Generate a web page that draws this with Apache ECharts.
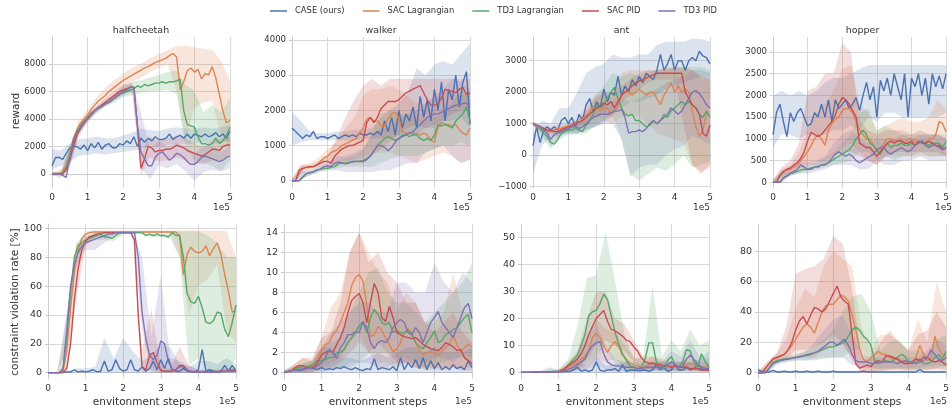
<!DOCTYPE html>
<html>
<head>
<meta charset="utf-8">
<script src="https://cdn.jsdelivr.net/npm/echarts@6/dist/echarts.min.js"></script>
<style>
  html, body { margin: 0; padding: 0; background: #fff; }
  #chart { width: 952px; height: 412px; }
</style>
</head>
<body>
<div id="chart"></div>
<script>
// steps (x 1e5) for the mean curves and for the shaded bands
const xFine = [0,0.1,0.2,0.3,0.4,0.5,0.6,0.7,0.8,0.9,1,1.1,1.2,1.3,1.4,1.5,1.6,1.7,1.8,1.9,2,2.1,2.2,2.3,2.4,2.5,2.6,2.7,2.8,2.9,3,3.1,3.2,3.3,3.4,3.5,3.6,3.7,3.8,3.9,4,4.1,4.2,4.3,4.4,4.5,4.6,4.7,4.8,4.9,5];
const xBand = [0,0.25,0.5,0.75,1,1.25,1.5,1.75,2,2.25,2.5,2.75,3,3.25,3.5,3.75,4,4.25,4.5,4.75,5];
const xTicks = [0,1,2,3,4,5];

const methods = ['CASE (ours)', 'SAC Lagrangian', 'TD3 Lagrangian', 'SAC PID', 'TD3 PID'];
const colors = ['#4c72b0', '#dd8452', '#55a868', '#c44e52', '#8172b3'];
const bandColors = ['rgba(76,114,176,0.2)', 'rgba(221,132,82,0.2)', 'rgba(85,168,104,0.2)', 'rgba(196,78,82,0.2)', 'rgba(129,114,179,0.2)'];

// ---------- halfcheetah reward ----------
const hcRewCase = [600,1200,1200,1050,1500,1900,2000,2000,1800,2100,
  1700,2200,1900,2300,1800,2100,2200,1900,1900,2200,
  2100,2400,2200,2700,2000,2600,2300,2600,2400,2700,
  2500,2500,2600,2900,2500,2700,2800,2600,2900,2600,
  2900,2800,2700,2900,2700,2800,3000,2700,2900,2600,3100];
const hcRewSacLag = [0,0,0,200,600,1500,2600,3200,3700,4000,
  4300,4700,5000,5300,5500,5700,6000,6200,6400,6600,
  6800,6950,7100,7250,7400,7550,7700,7800,7950,8100,
  8200,8300,8400,8600,8750,8500,6100,6700,7500,7700,
  7400,7600,6900,7300,7200,7800,7000,5800,4600,3700,3900];
const hcRewTd3Lag = [0,0,0,50,500,1400,2400,3100,3500,3800,
  4100,4400,4600,4800,4900,5100,5200,5400,5600,5800,
  5900,6000,6100,6200,6400,6300,6500,6400,6500,6600,
  6600,6700,6600,6700,6700,6750,6900,4600,3600,3500,
  3400,2700,2200,2200,2100,2200,2600,2200,2400,2800,3400];
const hcRewSacPid = [0,0,0,0,300,1000,2000,2800,3300,3700,
  4000,4300,4600,4800,5000,5200,5400,5600,5800,6000,
  6100,6200,6300,6300,3500,400,1100,2000,1900,1600,
  1700,1700,1800,1800,1900,2100,2000,1900,1700,1600,
  1500,1400,1300,1400,1600,1800,1800,1700,2000,2100,2100];
const hcRewTd3Pid = [0,0,0,-100,-250,1200,2400,3000,3400,3800,
  4000,4300,4600,4800,4900,5100,5200,5400,5600,5800,
  6000,6100,6300,6300,3500,1600,1100,600,600,1200,
  1500,1600,1300,1000,1200,1500,1400,1200,900,700,
  700,900,1200,1300,1200,1100,1000,900,1000,1200,1300];
const hcRewCaseLo = [300,600,900,1300,1400,1500,1400,1500,1600,1700,1800,2000,2000,2100,2200,2200,2200,2300,2200,2300,2400];
const hcRewCaseHi = [1800,1700,2200,2500,2600,2700,2600,2600,2800,3000,3300,3200,3100,3300,3400,3300,3300,3400,3300,3400,3600];
const hcRewSacLagLo = [-100,-100,1000,3200,4000,4900,5400,5900,6300,6700,7000,7400,7700,8000,6000,2500,4800,5200,5300,2800,2000];
const hcRewSacLagHi = [100,300,2100,3900,4700,5600,6300,6800,7300,7700,8000,8400,8700,9000,9300,9300,9200,9100,9000,8200,6800];
const hcRewTd3LagLo = [-100,-100,800,3000,3800,4500,4900,5200,5600,5700,5900,6000,6000,6100,5800,2000,1000,800,600,200,1000];
const hcRewTd3LagHi = [100,200,1900,3600,4300,4900,5300,5800,6400,6700,6800,7000,7200,7400,7500,6500,6000,4500,5000,4500,5500];
const hcRewSacPidLo = [-100,-100,600,2700,3800,4500,5000,5400,5800,6000,-100,1200,900,1000,1200,1000,800,700,1000,1000,1400];
const hcRewSacPidHi = [100,100,1500,3400,4300,4900,5500,6000,6500,6600,1500,2700,2400,2600,2800,2600,2200,2000,2400,2600,2700];
const hcRewTd3PidLo = [-100,-300,400,2900,3800,4400,4900,5300,5700,5900,500,-400,600,400,700,200,-500,100,300,200,400];
const hcRewTd3PidHi = [100,100,1800,3500,4300,4900,5400,5800,6300,6600,4500,1800,2400,2000,2300,2000,1500,2000,2000,1600,2000];

// ---------- walker reward ----------
const wkRewCase = [1500,1400,1300,1200,1300,1250,1400,1200,1250,1250,
  1200,1250,1300,1200,1250,1300,1250,1300,1250,1350,
  1300,1300,1350,1300,1400,1300,1700,1400,1800,1300,
  2000,1500,1900,1700,2100,1500,2400,1800,2300,1700,
  2600,2000,2800,1700,2600,2300,3000,2100,2800,3100,1600];
const wkRewSacLag = [0,0,200,350,380,380,400,450,550,650,
  700,800,850,900,1000,1050,1100,1150,1200,1350,
  1500,1750,1800,1700,1700,1550,1550,1750,1900,1950,
  1750,1400,1350,1350,1350,1350,1300,1350,1300,1150,
  1100,1500,1650,1600,1600,1550,1600,1450,1350,1300,1500];
const wkRewTd3Lag = [0,0,0,100,200,230,250,300,330,350,
  350,380,400,480,500,500,520,530,550,550,
  580,620,700,850,1000,1100,1200,1250,1200,1150,
  1200,1300,1300,1250,1300,1300,1200,1150,1200,1150,
  1300,1600,1550,1600,1550,1500,1700,1800,1900,2100,1700];
const wkRewSacPid = [0,0,300,350,380,400,400,450,500,550,
  550,500,700,800,900,950,1000,1000,1050,1100,
  1150,1650,1800,1650,1800,2050,2150,2250,2250,2250,
  2300,2400,2500,2550,2600,2650,2700,2500,2300,2150,
  2150,2200,2350,2600,2550,2550,2500,2600,2650,2450,2500];
const wkRewTd3Pid = [0,0,0,100,200,220,250,300,330,400,
  420,400,500,530,500,480,500,550,550,550,
  550,600,700,850,1000,1000,950,850,950,1100,
  1200,1250,1300,1350,1400,1500,1600,1700,1800,1850,
  1900,1900,1950,2000,2050,2100,2150,2150,2200,2200,2100];
const wkRewCaseLo = [1000,1100,1150,1150,1150,1150,1150,1150,1150,1200,1200,1200,1300,1300,1300,1500,1500,1700,1700,1800,1500];
const wkRewCaseHi = [1950,1700,1400,1350,1350,1400,1400,1450,1450,1500,1800,2000,2200,2500,3200,3000,3300,3400,3300,3600,3900];
const wkRewSacLagLo = [0,200,300,400,500,500,550,600,700,800,800,800,700,600,500,600,700,800,700,500,600];
const wkRewSacLagHi = [50,450,500,650,900,1100,1500,1800,2400,2600,2600,2700,2600,2400,2200,2200,2300,2500,2500,2400,2600];
const wkRewTd3LagLo = [0,50,150,250,300,350,400,400,400,400,500,600,700,700,700,800,900,1000,1000,1100,1000];
const wkRewTd3LagHi = [50,250,300,400,450,550,650,700,900,1400,1900,2000,1900,1900,1800,1700,1800,2000,2200,2600,2500];
const wkRewSacPidLo = [0,250,350,400,400,450,500,500,500,700,900,1100,1300,1500,1600,1500,1600,1700,1900,2000,2000];
const wkRewSacPidHi = [50,450,450,550,700,1200,1800,2300,2700,2900,2700,2900,2900,2900,2900,2900,2900,2900,2900,2900,2900];
const wkRewTd3PidLo = [0,50,150,250,300,300,250,250,250,250,300,300,400,500,500,800,900,1000,700,500,600];
const wkRewTd3PidHi = [50,250,300,400,500,700,700,800,900,1300,1500,1500,1800,1900,2000,2200,2400,2600,2900,2800,2600];

// ---------- ant reward ----------
const antRewCase = [300,900,400,800,900,800,900,800,1100,1200,
  1000,1200,900,1300,1100,1600,1800,1400,1700,1500,
  2100,1700,2000,1900,2500,1900,2200,2000,2400,2200,
  2500,2300,2600,2500,2400,2700,3200,2700,2900,3200,
  2700,3000,3000,2700,3000,3100,3000,3300,3150,3100,2900];
const antRewSacLag = [1000,900,850,800,750,750,800,850,850,900,
  900,950,1000,1050,1150,1250,1400,1500,1500,1400,
  1500,1500,1300,1400,1600,1900,2000,2000,1900,2000,
  2100,2000,1900,2000,2000,1800,1600,1900,2100,2300,
  2000,2200,2000,2100,2000,1400,900,600,800,1300,1300];
const antRewTd3Lag = [1000,950,850,700,600,400,350,500,700,750,
  800,800,850,800,750,950,1100,1300,1600,1500,
  1600,1800,2000,2150,1800,1500,1300,1250,1300,1100,
  1100,1000,900,950,1100,1000,1100,1300,1200,1400,
  1500,1600,1700,1600,1700,1600,1500,1300,1200,1400,1200];
const antRewSacPid = [1000,950,900,850,800,780,750,750,800,850,
  900,950,1000,1050,1100,1200,1300,1400,1500,1550,
  1650,1600,1700,1500,1700,1900,2000,2100,2200,2300,
  2350,2400,2450,2500,2550,2600,2600,2600,2600,2600,
  2600,2600,2600,2000,1800,1600,1500,1300,700,600,950];
const antRewTd3Pid = [1000,950,900,800,700,500,650,700,750,800,
  850,900,900,850,900,1000,1100,1200,1250,1300,
  1300,1300,1350,1400,1400,1450,1200,700,750,750,
  800,750,850,1000,1100,1000,1100,1200,1300,1500,
  1400,1300,1400,1600,1800,2000,2050,1950,1800,1600,1500];
const antRewCaseLo = [-600,300,600,600,700,700,800,900,1100,1300,1500,1700,1700,1800,1900,2100,2200,2300,2400,2500,2500];
const antRewCaseHi = [700,1100,1000,1500,1500,2000,2600,2800,2900,3200,3100,3100,3200,3200,3500,3600,3600,3600,3700,3700,3600];
const antRewSacLagLo = [950,700,650,700,800,850,950,1000,1100,1000,1200,1300,1200,1000,700,600,500,400,-300,-500,-400];
const antRewSacLagHi = [1050,950,900,1000,1000,1150,1600,1900,2000,1800,2600,2700,2700,2700,2700,2800,2800,2800,2700,2500,2500];
const antRewTd3LagLo = [950,600,200,500,650,650,700,900,1000,1300,500,-600,-800,-600,-400,-500,-300,0,-400,-300,-200];
const antRewTd3LagHi = [1050,900,600,800,900,1000,1200,1900,2200,2600,2500,2600,2500,2600,2700,2700,2800,2800,2800,2800,2700];
const antRewSacPidLo = [950,750,700,700,800,900,1000,1200,1300,1200,1700,1900,2100,2300,2400,2400,2400,1000,-300,-600,-300];
const antRewSacPidHi = [1050,900,850,850,1000,1100,1400,1800,2000,2000,2200,2400,2600,2700,2700,2750,2750,2750,2700,2500,2400];
const antRewTd3PidLo = [950,700,300,600,700,700,800,900,1000,1000,500,-700,-400,-300,-300,0,200,300,600,500,300];
const antRewTd3PidHi = [1050,950,700,850,1000,1100,1300,1600,1700,1700,1800,1700,1800,2000,2100,2300,2400,2500,2700,2700,2600];

// ---------- hopper reward ----------
const hopRewCase = [1100,1600,1800,1400,1050,1600,1400,1600,1700,1500,
  1300,1350,1600,1500,1800,1500,1900,1400,1900,1700,
  1800,1900,1700,1800,1950,1650,2000,2300,1900,2200,
  1500,2350,2100,2400,2000,2500,2200,1900,2500,1500,
  2400,2200,2500,2000,2400,1800,2500,2200,2450,2150,2500];
const hopRewSacLag = [0,0,150,250,280,300,350,400,500,600,
  700,850,1000,1100,1000,850,1200,1350,1450,1500,
  1650,1700,1700,1600,1400,1200,1100,1000,1000,850,
  700,750,900,1000,1000,950,950,1000,900,1000,
  1000,950,900,950,900,1000,1000,1100,1400,1350,1150];
const hopRewTd3Lag = [0,0,0,100,150,200,220,250,280,300,
  300,330,350,370,400,420,450,500,550,600,
  650,700,750,850,1000,1100,1200,1100,900,850,
  750,650,800,900,800,850,850,900,850,850,
  900,850,900,950,900,850,900,900,900,800,950];
const hopRewSacPid = [0,0,150,250,300,330,400,450,550,700,
  950,1150,1100,1050,1100,1200,1300,1400,1550,1800,
  1950,1900,1800,1650,1500,900,850,800,800,700,
  600,700,800,900,950,900,950,950,900,900,
  950,850,950,900,900,950,900,850,850,750,800];
const hopRewTd3Pid = [0,0,0,100,150,200,250,300,400,350,
  300,300,350,350,400,400,450,550,650,700,
  650,600,650,600,500,450,500,550,600,650,
  750,800,800,700,650,700,750,800,750,700,
  750,850,900,950,850,800,850,850,800,750,800];
const hopRewCaseLo = [800,1100,1100,1000,1100,1100,1100,1200,1200,1300,1200,1500,1400,1600,1600,1500,1500,1500,1500,1500,1600];
const hopRewCaseHi = [2000,2100,2000,2100,2000,2100,2300,2400,2400,2500,2600,2700,2700,2700,2700,2700,2700,2700,2700,2700,2700];
const hopRewSacLagLo = [0,100,200,300,400,500,400,600,800,900,700,500,400,600,600,600,600,600,600,600,600];
const hopRewSacLagHi = [50,300,400,700,1200,1600,1800,2100,2600,2700,1800,1600,1200,1300,1400,1500,1400,1400,1500,1900,1700];
const hopRewTd3LagLo = [0,0,150,200,250,300,350,400,450,500,700,700,500,600,500,600,600,700,600,600,600];
const hopRewTd3LagHi = [50,250,250,300,400,450,550,700,900,1100,1600,1700,1200,1300,1200,1100,1100,1100,1100,1100,1100];
const hopRewSacPidLo = [0,150,200,300,400,400,500,600,700,700,600,500,400,600,700,700,700,700,700,700,600];
const hopRewSacPidHi = [50,350,500,900,2100,2200,2500,2500,3200,3000,1400,1200,1100,1200,1200,1200,1100,1200,1100,1100,1000];
const hopRewTd3PidLo = [0,0,150,200,200,250,300,400,400,400,300,300,500,400,400,500,500,600,500,500,500];
const hopRewTd3PidHi = [50,250,300,500,450,500,600,900,1100,1200,1000,900,1000,1000,1000,1100,1000,1100,1100,1100,1000];

// ---------- halfcheetah constraint violation ----------
const hcViolCase = [0,0,0,0,0,0.5,0.5,2,0.5,1,
  0.5,1,2,0.5,1,8,1,2,9,3,
  1,2,9,2,1,4,1,3,8,2,
  9,3,10,2,1,1,3,1,1,0.5,
  2,16,1,2,1,0.5,1,5,1,5,1];
const hcViolSacLag = [0,0,0,0,1,15,45,70,85,93,
  96,97,97.5,97.5,97.5,97.5,97.5,97.5,97.5,97.5,
  97.5,97.5,97.5,97.5,97.5,97.5,97.5,97.5,97.5,97.5,
  97.5,97.5,97.5,97.5,97.5,95,68,82,87,84,
  83,84,88,81,86,90,82,68,56,42,43];
const hcViolTd3Lag = [0,0,0,0,2,25,55,80,88,90,
  92,93,94,95,96,94,94,93,95,97,
  97,97,97,97,97,97,95,96,95,96,
  95,95,94,97,95,95,80,55,49,48,
  53,45,35,34,36,42,41,30,25,35,47];
const hcViolSacPid = [0,0,0,0,0,3,20,50,72,85,
  91,94,95,96,96.5,97,97,97,97,97,
  97,97,97,92,40,4,2,12,14,7,
  1.5,1,1,1,2,5,5,2,0.5,0.5,
  0.5,0.5,0.5,0.5,0.5,0.5,1,1,1,2,1];
const hcViolTd3Pid = [0,0,0,0,3,30,60,75,83,88,
  90,91,92,93,94,95,96,96,97,97,
  97,97,97,97,80,42,24,12,9,12,
  22,20,8,2,2,4,4,2,0.5,0.5,
  0.5,0.5,0.5,0.5,0.5,0.5,0.5,1,1,1,1];
const hcViolCaseLo = [0,0,0,0,0,0,0,0,0,0,0,0,0,0,0,0,0,0,0,0,0];
const hcViolCaseHi = [0.5,0.5,1,3,3,4,24,10,24,15,8,12,20,18,6,4,8,8,6,10,6];
const hcViolSacLagLo = [0,0,8,70,94,97,97,97,97,97,97,97,97,97,80,40,60,65,75,30,20];
const hcViolSacLagHi = [0.5,0.5,25,88,98,98.5,98.5,98.5,98.5,98.5,98.5,98.5,98.5,98.5,98.5,98.5,98.5,98.5,98.5,98,80];
const hcViolTd3LagLo = [0,0,15,78,90,92,92,91,96,96,96,94,94,93,80,5,10,0,0,0,10];
const hcViolTd3LagHi = [0.5,0.5,40,90,95,97,97,97,98,98,98,98,98,98,98,98,98,95,90,80,80];
const hcViolSacPidLo = [0,0,1,50,88,94,96,96,96,96,0,2,0,0,0,0,0,0,0,0,0];
const hcViolSacPidHi = [0.5,0.5,8,75,94,97,98,98,98,98,15,44,5,3,18,5,2,2,2,3,4];
const hcViolTd3PidLo = [0,0,18,75,85,85,90,94,96,96,30,0,0,0,0,0,0,0,0,0,0];
const hcViolTd3PidHi = [0.5,0.5,42,85,93,96,97,98,98,98,80,25,68,10,8,5,2,2,2,2,2];

// ---------- walker constraint violation ----------
const wkViolCase = [0,0.1,0.2,0.3,0.2,0.3,0.4,0.5,0.4,0.3,
  0.5,0.3,0.4,0.3,0.5,0.4,0.6,0.4,0.3,0.5,
  0.3,0.2,0.4,0.3,1.4,0.3,0.5,0.4,0.3,0.6,
  0.2,1.5,0.3,1,0.5,1.3,0.4,1.5,0.3,1.2,
  0.4,1,0.3,0.6,0.3,0.8,0.4,0.6,0.3,1.2,0.5];
const wkViolSacLag = [0,0.1,0.2,0.5,0.7,0.6,0.5,0.5,0.8,1.5,
  2.2,2.8,3,3.8,4.2,5,6,7,8.7,9.5,
  9.8,9.1,6.8,3.6,3.8,4.6,4.2,3.5,2.8,2.1,
  2.4,3,4,4.4,4,3,2.2,1.8,2,2.1,
  1.9,1.7,2.1,2.5,2.9,3.7,2.8,2.1,2.5,2.8,2.6];
const wkViolTd3Lag = [0,0.1,0.2,0.3,0.5,0.6,0.6,0.7,0.9,1.2,
  1.2,1.3,1.5,1.5,2,2,2.3,3,3.5,4,
  4.7,5.1,4,5.5,6.3,5.8,5,4.8,5,4,
  4.2,4,4,4.2,3.8,3,2.6,2.4,3,3.5,
  4.2,3,3.2,3.8,4,4.3,4.5,5,5.5,5.8,4];
const wkViolSacPid = [0,0.1,0.2,0.5,0.7,0.7,0.5,0.5,0.6,1,
  1.8,2,2.2,2,2.8,3.5,4.5,6,7.2,7.6,
  7.9,7,5,7,8.9,8,5.5,5.1,6.6,5.5,
  4,3.8,3.6,3.5,3.4,3.5,3.2,2.8,2.6,2.4,
  2.3,2.2,2.5,3,2.8,2.6,2.2,2.3,1.5,1.2,0.9];
const wkViolTd3Pid = [0,0.1,0.2,0.3,0.3,0.4,0.4,0.5,0.5,0.7,
  1,1.5,2.3,2,1.4,2.5,3,3.8,3.8,4.1,
  4,5.1,4.5,3,2.4,3,3.2,3,3.5,4.5,
  5,5.3,5,4,3.8,4.5,4,3,4,5,
  5.5,6.1,5,4.5,4,3.5,4.5,5.5,6.5,6.9,5.4];
const wkViolCaseLo = [0,0,0,0,0,0,0,0,0,0,0,0,0,0,0,0,0,0,0,0,0];
const wkViolCaseHi = [0.2,0.5,0.8,1.2,2.5,2.5,1.5,1.5,1.2,1.5,2,1.5,2,2.5,2.5,2,2.5,2,2,2,2.5];
const wkViolSacLagLo = [0,0,0,0,0.5,1,1.5,3,4,2,1,1,0.5,1,0.5,0.3,0.3,0.3,0.5,0.5,0.5];
const wkViolSacLagHi = [0.2,0.8,1.5,1.5,3.5,6.5,8,12,14,12,10,9,6,8,7,5,5,6,10,6,6];
const wkViolTd3LagLo = [0,0,0,0.2,0.5,0.5,0.5,1,1,2,2,2,1.5,1.5,1,0.5,1,1,1.5,1.5,1];
const wkViolTd3LagHi = [0.2,0.6,1,1.2,2.5,3,3.5,6,8,10,10.5,8,7,7,6,5,6,7,8,9,11];
const wkViolSacPidLo = [0,0,0,0,0.5,0.5,1,2,3,2,3,2,1,1,0.5,0.5,0.5,0.5,0.5,0.2,0.2];
const wkViolSacPidHi = [0.2,0.8,1.5,1.2,3.5,4,7,12,14,11,12,10,9,7,7,5,4,5,6,4,3];
const wkViolTd3PidLo = [0,0,0,0,0,0.3,0.5,0.5,1,1,0.5,0.5,1,1,1,1,1.5,1.5,1,2,1.5];
const wkViolTd3PidHi = [0.2,0.4,0.6,0.8,2.5,4,5,6,7,7,6,6,9,9,8,8,11,9,8,10,9];

// ---------- ant constraint violation ----------
const antViolCase = [0.1,0.2,0.1,0.3,0.2,0.1,0.3,0.2,0.4,0.3,
  0.3,0.3,0.4,0.5,1,2,0.5,1,0.5,1,
  4,1,0.5,1,1,1.5,0.5,3,0.5,1,
  1,0.8,0.8,1,0.5,1,3,1,2,0.5,
  1,3,1,1,2,1,1.5,3,1,2,0.8];
const antViolSacLag = [0.1,0.1,0.1,0.1,0.2,0.2,0.2,0.2,0.2,0.2,
  0.3,0.8,1.5,2.5,3,4,5,6,8,13,
  14.5,13,10,7.5,10,11.5,9.5,6.5,5,3.5,
  3,2.5,2,2,3,3.5,3,2.5,2,2,
  2,2,2.5,2,3,3.5,3,2,2,2,2];
const antViolTd3Lag = [0.1,0.1,0.1,0.1,0.2,0.2,0.2,0.2,0.2,0.3,
  0.5,1,2,3.5,5,6.5,10,14,21,22.5,
  23,25.5,29,27,21,15,10.5,7,4.5,2.5,
  2,1.5,2,5,11,11,4,2,2,4.5,
  6,3,2,4,8.5,8,4,2,7,4,2];
const antViolSacPid = [0.1,0.1,0.1,0.1,0.2,0.2,0.2,0.2,0.2,0.2,
  0.3,1,2,3,4,5,7,10,14,17,
  20,21.5,23,19,16,15.5,14.5,13.5,12,11.5,
  9.5,8,5.5,4,3.5,3.5,3,3,2.5,2.5,
  2,2.5,2,2,2,1.5,1.5,1.5,1,1,1];
const antViolTd3Pid = [0.1,0.1,0.1,0.1,0.2,0.2,0.2,0.2,0.2,0.2,
  0.3,0.5,1,1.5,2,3,4,5,8,10,
  11,11.5,7,4,3,2.5,2.5,2,2,2,
  2,1.5,1.5,2,2,2,2,2,2,3,
  4,3,2,2.5,5,6.5,5,3,2,1.5,1.5];
const antViolCaseLo = [0,0,0,0,0,0,0,0,0,0,0,0,0,0,0,0,0,0,0,0,0];
const antViolCaseHi = [0.5,0.5,0.5,2,1,1.5,4,2.5,6,2.5,3,4,2.5,2.5,4,4,3,4,4,5,8];
const antViolSacLagLo = [0,0,0,0,0,0.5,1,2,5,4,5,2,1,1,1,1,1,1,1,0.5,0.5];
const antViolSacLagHi = [0.3,0.3,0.3,0.5,1,3,7,14,20,16,15,10,6,4,6,4,4,4,6,4,4];
const antViolTd3LagLo = [0,0,0,0,0,0.5,1.5,3,6,10,3,0.5,0.2,0.5,1,0.5,0.5,0.5,1,0.5,0.5];
const antViolTd3LagHi = [0.3,0.3,0.3,1,1.5,5,17,35,36,52,34,14,5,6,32,6,12,8,16,10,12];
const antViolSacPidLo = [0,0,0,0,0,0.5,1.5,5,10,12,10,8,4,1.5,1,1,1,0.5,0.5,0.5,0.3];
const antViolSacPidHi = [0.3,0.3,0.3,0.5,1,4,8,20,30,30,20,18,12,6,6,5,4,4,3,3,2];
const antViolTd3PidLo = [0,0,0,0,0,0,0.5,1,3,1,0.5,0.5,0.5,0.5,0.5,0.5,0.5,0.5,1,0.5,0.5];
const antViolTd3PidHi = [0.3,0.3,0.3,0.5,1,2.5,6,12,18,10,5,4,4,3,4,4,8,6,12,6,5];

// ---------- hopper constraint violation ----------
const hopViolCase = [2,0.5,0.5,0.5,1.5,0.5,0.5,1,0.5,0.5,
  1,0.5,0.5,1,0.5,0.5,1,0.5,0.5,0.5,
  1,0.5,0.5,0.5,0.5,0.5,0.5,0.5,1,0.5,
  0.5,0.5,0.5,0.5,0.5,0.5,0.5,0.5,0.5,0.5,
  0.5,0.5,0.5,2,0.5,0.5,0.5,0.5,0.5,0.5,0.5];
const hopViolSacLag = [0,0,3,6,9,10,11,12,15,18,
  22,26,30,32,30,26,33,40,44,45,
  45,48,51,50,47,38,28,16,9,7,
  10,12,14,12,12,10,9,9,8,7,
  6,7,10,18,12,8,10,24,16,12,11];
const hopViolTd3Lag = [0,0,0,3,7,8,8.5,9,9,9.5,
  10,10.5,11,12,12.5,13,14,15,16,17,
  17,18,19,20,24,28,30,28,24,22,
  18,8,6,7,8,7,8,10,12,11,
  7,6,7,9,6,6,7,10,12,9,14];
const hopViolSacPid = [0,0,3,6,9,10,11,12,15,20,
  28,34,37,32,38,43,42,40,42,47,
  52,57,50,47,45,25,6,3,4,5,
  4,7,8,7,11,11,10,9,7,6,
  6,7,9,8,10,10,8,7,8,7,5];
const hopViolTd3Pid = [0,0,0,3,6,7,8,8.5,9,9.5,
  10,10.5,11,11.5,12,13,14,16,18,20,
  20,18,20,22,18,12,8,7,7,7,
  6,6,7,7,7,7,7,6,7,8,
  7,7,6,7,8,10,15,12,9,8,10];
const hopViolCaseLo = [0,0,0,0,0,0,0,0,0,0,0,0,0,0,0,0,0,0,0,0,0];
const hopViolCaseHi = [3,1.5,1.5,1.5,1.5,1.5,1.5,1.5,1.5,1.5,1.5,1.5,1.5,1.5,1.5,1.5,1.5,1.5,1.5,1.5,1.5];
const hopViolSacLagLo = [0,2,7,9,10,10,10,15,18,18,10,0,0,2,2,2,1,2,2,3,2];
const hopViolSacLagHi = [0.5,7,13,22,42,55,50,70,80,75,70,30,15,25,25,20,15,35,20,60,40];
const hopViolTd3LagLo = [0,0,6,7,8,8,8,9,10,10,15,15,3,2,2,3,2,2,2,3,4];
const hopViolTd3LagHi = [0.5,3,9,11,12,14,17,22,28,40,50,52,40,15,20,22,14,15,12,22,25];
const hopViolSacPidLo = [0,2,7,9,15,15,17,20,25,20,8,0,0,1,2,2,2,2,2,2,2];
const hopViolSacPidHi = [0.5,7,13,30,65,68,70,75,90,85,55,10,8,20,28,20,15,25,28,40,30];
const hopViolTd3PidLo = [0,0,5,7,8,8,9,10,10,10,5,3,3,3,3,3,3,3,4,5,4];
const hopViolTd3PidHi = [0.5,3,8,10,11,14,20,28,35,38,25,12,10,10,10,10,10,10,15,22,18];

// y tick labels per panel
const hcRewTicks = [0,2000,4000,6000,8000];
const wkRewTicks = [0,1000,2000,3000,4000];
const antRewTicks = [-1000,0,1000,2000,3000];
const hopRewTicks = [0,500,1000,1500,2000,2500,3000];
const hcViolTicks = [0,20,40,60,80,100];
const wkViolTicks = [0,2,4,6,8,10,12,14];
const antViolTicks = [0,10,20,30,40,50];
const hopViolTicks = [0,20,40,60,80];

const panels = [
  { title: 'halfcheetah', ticks: hcRewTicks, min: -1020, max: 9950,
    means: [hcRewCase, hcRewSacLag, hcRewTd3Lag, hcRewSacPid, hcRewTd3Pid],
    lo: [hcRewCaseLo, hcRewSacLagLo, hcRewTd3LagLo, hcRewSacPidLo, hcRewTd3PidLo],
    hi: [hcRewCaseHi, hcRewSacLagHi, hcRewTd3LagHi, hcRewSacPidHi, hcRewTd3PidHi] },
  { title: 'walker', ticks: wkRewTicks, min: -207, max: 4085,
    means: [wkRewCase, wkRewSacLag, wkRewTd3Lag, wkRewSacPid, wkRewTd3Pid],
    lo: [wkRewCaseLo, wkRewSacLagLo, wkRewTd3LagLo, wkRewSacPidLo, wkRewTd3PidLo],
    hi: [wkRewCaseHi, wkRewSacLagHi, wkRewTd3LagHi, wkRewSacPidHi, wkRewTd3PidHi] },
  { title: 'ant', ticks: antRewTicks, min: -1041, max: 3752,
    means: [antRewCase, antRewSacLag, antRewTd3Lag, antRewSacPid, antRewTd3Pid],
    lo: [antRewCaseLo, antRewSacLagLo, antRewTd3LagLo, antRewSacPidLo, antRewTd3PidLo],
    hi: [antRewCaseHi, antRewSacLagHi, antRewTd3LagHi, antRewSacPidHi, antRewTd3PidHi] },
  { title: 'hopper', ticks: hopRewTicks, min: -131, max: 3345,
    means: [hopRewCase, hopRewSacLag, hopRewTd3Lag, hopRewSacPid, hopRewTd3Pid],
    lo: [hopRewCaseLo, hopRewSacLagLo, hopRewTd3LagLo, hopRewSacPidLo, hopRewTd3PidLo],
    hi: [hopRewCaseHi, hopRewSacLagHi, hopRewTd3LagHi, hopRewSacPidHi, hopRewTd3PidHi] },
  { title: '', ticks: hcViolTicks, min: -4.4, max: 103,
    means: [hcViolCase, hcViolSacLag, hcViolTd3Lag, hcViolSacPid, hcViolTd3Pid],
    lo: [hcViolCaseLo, hcViolSacLagLo, hcViolTd3LagLo, hcViolSacPidLo, hcViolTd3PidLo],
    hi: [hcViolCaseHi, hcViolSacLagHi, hcViolTd3LagHi, hcViolSacPidHi, hcViolTd3PidHi] },
  { title: '', ticks: wkViolTicks, min: -0.63, max: 14.83,
    means: [wkViolCase, wkViolSacLag, wkViolTd3Lag, wkViolSacPid, wkViolTd3Pid],
    lo: [wkViolCaseLo, wkViolSacLagLo, wkViolTd3LagLo, wkViolSacPidLo, wkViolTd3PidLo],
    hi: [wkViolCaseHi, wkViolSacLagHi, wkViolTd3LagHi, wkViolSacPidHi, wkViolTd3PidHi] },
  { title: '', ticks: antViolTicks, min: -2.33, max: 54.9,
    means: [antViolCase, antViolSacLag, antViolTd3Lag, antViolSacPid, antViolTd3Pid],
    lo: [antViolCaseLo, antViolSacLagLo, antViolTd3LagLo, antViolSacPidLo, antViolTd3PidLo],
    hi: [antViolCaseHi, antViolSacLagHi, antViolTd3LagHi, antViolSacPidHi, antViolTd3PidHi] },
  { title: '', ticks: hopViolTicks, min: -4.14, max: 97.8,
    means: [hopViolCase, hopViolSacLag, hopViolTd3Lag, hopViolSacPid, hopViolTd3Pid],
    lo: [hopViolCaseLo, hopViolSacLagLo, hopViolTd3LagLo, hopViolSacPidLo, hopViolTd3PidLo],
    hi: [hopViolCaseHi, hopViolSacLagHi, hopViolTd3LagHi, hopViolSacPidHi, hopViolTd3PidHi] }
];

// plot boxes [left, top, width, height] in px
const boxes = [
  [52, 37, 178, 151], [292, 37, 178, 151], [533, 37, 177, 151], [773, 37, 179, 151],
  [48, 224, 188, 155], [284, 224, 188, 155], [521, 224, 188, 155], [758, 224, 189, 155]
];

const gridColor = '#d9d9d9';
const textColor = '#333333';
const fmt = v => String(v).replace('-', '\u2212');

const grids = [], xAxes = [], yAxes = [], series = [], graphics = [];

panels.forEach((p, gi) => {
  const [l, t, w, h] = boxes[gi];
  const bottomRow = gi >= 4;
  grids.push({ left: l, top: t, width: w, height: h });
  xAxes.push({
    type: 'value', gridIndex: gi, min: 0, max: 5, interval: 1,
    axisLine: { show: true, lineStyle: { color: '#cccccc', width: 1 } },
    axisTick: { show: true, length: 3, lineStyle: { color: '#cccccc' } },
    splitLine: { show: true, lineStyle: { color: gridColor, width: 1 } },
    axisLabel: { fontSize: 9, color: textColor, margin: 5, formatter: fmt },
    name: bottomRow ? 'envitonment steps' : '',
    nameLocation: 'middle', nameGap: 18,
    nameTextStyle: { fontSize: 10.5, color: textColor }
  });
  yAxes.push({
    type: 'value', gridIndex: gi, min: p.min, max: p.max,
    axisLine: { show: true, lineStyle: { color: '#cccccc', width: 1 } },
    axisTick: { show: true, length: 3, lineStyle: { color: '#cccccc' }, customValues: p.ticks },
    splitLine: { show: true, lineStyle: { color: gridColor, width: 1 } },
    axisLabel: { fontSize: bottomRow ? 9.5 : 8.5, color: textColor, margin: 6, customValues: p.ticks, formatter: fmt }
  });

  // shaded bands first
  p.lo.forEach((lo, m) => {
    const hi = p.hi[m];
    series.push({
      type: 'custom', name: methods[m] + ' band', xAxisIndex: gi, yAxisIndex: gi,
      silent: true, z: 1, clip: true,
      data: xBand.map((x, i) => [x, lo[i], hi[i]]),
      encode: { x: 0, y: [1, 2] },
      renderItem: function (params, api) {
        if (params.dataIndex !== 0) return null;
        const top = xBand.map((x, i) => api.coord([x, hi[i]]));
        const bot = xBand.map((x, i) => api.coord([x, lo[i]])).reverse();
        return { type: 'polygon', shape: { points: top.concat(bot) },
          style: { fill: bandColors[m], stroke: null } };
      }
    });
  });
  // mean lines
  p.means.forEach((arr, m) => {
    series.push({
      type: 'line', name: methods[m], xAxisIndex: gi, yAxisIndex: gi,
      data: xFine.map((x, i) => [x, arr[i]]),
      showSymbol: false, symbol: 'none', z: 3 + m,
      lineStyle: { color: colors[m], width: 1.4 },
      itemStyle: { color: colors[m] }
    });
  });

  if (p.title) {
    graphics.push({ type: 'text', x: l + w / 2, y: 31,
      style: { text: p.title, fill: textColor, font: '9.5px "DejaVu Sans"', align: 'center', verticalAlign: 'middle' } });
  }
  graphics.push({ type: 'text', x: l + w, y: bottomRow ? 402 : 208,
    style: { text: '1e5', fill: textColor, font: '9px "DejaVu Sans"', align: 'right', verticalAlign: 'middle' } });
});

graphics.push({ type: 'text', x: 16, y: 111, rotation: Math.PI / 2,
  style: { text: 'reward', fill: textColor, font: '10.5px "DejaVu Sans"', align: 'center', verticalAlign: 'middle' } });
graphics.push({ type: 'text', x: 15, y: 302, rotation: Math.PI / 2,
  style: { text: 'constraint violation rate [%]', fill: textColor, font: '10.5px "DejaVu Sans"', align: 'center', verticalAlign: 'middle' } });

const chart = echarts.init(document.getElementById('chart'), null, { renderer: 'canvas' });
chart.setOption({
  animation: false,
  backgroundColor: '#ffffff',
  textStyle: { fontFamily: '"DejaVu Sans", sans-serif' },
  legend: {
    data: methods, left: 265, top: 2, icon: 'rect', itemWidth: 17, itemHeight: 1.5, itemGap: 18,
    textStyle: { fontSize: 8.4, color: textColor, padding: [0, 0, 0, 3] }
  },
  grid: grids,
  xAxis: xAxes,
  yAxis: yAxes,
  series: series,
  graphic: graphics
});
</script>
</body>
</html>
